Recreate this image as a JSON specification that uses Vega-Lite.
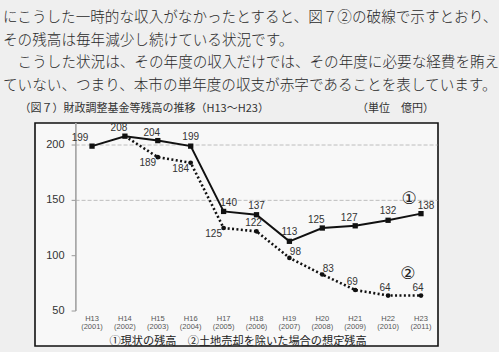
{
  "$schema": "https://vega.github.io/schema/vega-lite/v6.json",
  "autosize": "none",
  "width": 403,
  "height": 223,
  "padding": {"left": 35, "top": 123, "right": 61, "bottom": 6},
  "background": "#efefef",
  "view": {"stroke": "#111111", "strokeWidth": 1.6, "fill": "#f8f8f8"},
  "title": {
    "text": [
      "にこうした一時的な収入がなかったとすると、図７②の破線で示すとおり、",
      "その残高は毎年減少し続けている状況です。",
      "\u200B\u3000こうした状況は、その年度の収入だけでは、その年度に必要な経費を賄え",
      "ていない、つまり、本市の単年度の収支が赤字であることを表しています。"
    ],
    "subtitle": "\u200B\u3000\u3000（図７）財政調整基金等残高の推移（H13～H23）\u3000\u3000\u3000\u3000\u3000\u3000\u3000\u3000\u3000（単位　億円）",
    "anchor": "start",
    "frame": "group",
    "orient": "top",
    "dx": -32,
    "offset": 9,
    "font": "Noto Sans CJK JP",
    "fontSize": 14.6,
    "fontWeight": 300,
    "color": "#2a2a2a",
    "lineHeight": 22.5,
    "subtitleFont": "Noto Sans CJK JP",
    "subtitleFontSize": 11,
    "subtitleFontWeight": "normal",
    "subtitleColor": "#333333",
    "subtitlePadding": 10
  },
  "datasets": {
    "main": [
      {"year": 2001, "era": "H13", "paren": "(2001)", "series": "現状", "value": 199},
      {"year": 2002, "era": "H14", "paren": "(2002)", "series": "現状", "value": 208},
      {"year": 2003, "era": "H15", "paren": "(2003)", "series": "現状", "value": 204},
      {"year": 2004, "era": "H16", "paren": "(2004)", "series": "現状", "value": 199},
      {"year": 2005, "era": "H17", "paren": "(2005)", "series": "現状", "value": 140},
      {"year": 2006, "era": "H18", "paren": "(2006)", "series": "現状", "value": 137},
      {"year": 2007, "era": "H19", "paren": "(2007)", "series": "現状", "value": 113},
      {"year": 2008, "era": "H20", "paren": "(2008)", "series": "現状", "value": 125},
      {"year": 2009, "era": "H21", "paren": "(2009)", "series": "現状", "value": 127},
      {"year": 2010, "era": "H22", "paren": "(2010)", "series": "現状", "value": 132},
      {"year": 2011, "era": "H23", "paren": "(2011)", "series": "現状", "value": 138},
      {"year": 2002, "era": "H14", "paren": "(2002)", "series": "想定", "value": 208},
      {"year": 2003, "era": "H15", "paren": "(2003)", "series": "想定", "value": 189},
      {"year": 2004, "era": "H16", "paren": "(2004)", "series": "想定", "value": 184},
      {"year": 2005, "era": "H17", "paren": "(2005)", "series": "想定", "value": 125},
      {"year": 2006, "era": "H18", "paren": "(2006)", "series": "想定", "value": 122},
      {"year": 2007, "era": "H19", "paren": "(2007)", "series": "想定", "value": 98},
      {"year": 2008, "era": "H20", "paren": "(2008)", "series": "想定", "value": 83},
      {"year": 2009, "era": "H21", "paren": "(2009)", "series": "想定", "value": 69},
      {"year": 2010, "era": "H22", "paren": "(2010)", "series": "想定", "value": 64},
      {"year": 2011, "era": "H23", "paren": "(2011)", "series": "想定", "value": 64}
    ],
    "yticks": [{"v": 50}, {"v": 100}, {"v": 150}, {"v": 200}]
  },
  "data": {"name": "main"},
  "layer": [
    {
      "data": {"values": [{"g": 150}, {"g": 200}]},
      "mark": {"type": "rule", "color": "#bdbdbd", "strokeWidth": 1, "strokeDash": [4, 2]},
      "encoding": {
        "y": {"field": "g", "type": "quantitative", "scale": {"domain": [18.4, 219.9], "nice": false, "zero": false}, "axis": null},
        "x": {"datum": 2000.5, "type": "quantitative", "scale": {"domain": [1999.267, 2011.517], "nice": false, "zero": false}, "axis": null},
        "x2": {"datum": 2011.5}
      }
    },
    {
      "mark": {"type": "rule", "color": "#a8a8a8", "strokeWidth": 1},
      "encoding": {
        "x": {"datum": 2000.5, "type": "quantitative", "axis": null},
        "y": {"datum": 50, "type": "quantitative", "axis": null},
        "y2": {"datum": 219.9}
      }
    },
    {
      "data": {"name": "yticks"},
      "mark": {"type": "rule", "color": "#999999", "strokeWidth": 1},
      "encoding": {
        "x": {"datum": 2000.38, "type": "quantitative", "axis": null},
        "x2": {"datum": 2000.5},
        "y": {"field": "v", "type": "quantitative", "axis": null}
      }
    },
    {
      "data": {"name": "yticks"},
      "mark": {"type": "text", "font": "Liberation Sans", "fontSize": 11, "color": "#333333", "align": "right", "baseline": "middle", "dx": -11},
      "encoding": {
        "x": {"datum": 2000.5, "type": "quantitative", "axis": null},
        "y": {"field": "v", "type": "quantitative", "axis": null},
        "text": {"field": "v", "type": "quantitative"}
      }
    },
    {
      "transform": [{"filter": "datum.series === '現状'"}],
      "mark": {"type": "line", "color": "#111111", "strokeWidth": 2},
      "encoding": {
        "x": {"field": "year", "type": "quantitative", "axis": null},
        "y": {"field": "value", "type": "quantitative", "axis": null}
      }
    },
    {
      "transform": [{"filter": "datum.series === '想定'"}],
      "mark": {"type": "line", "color": "#111111", "strokeWidth": 2.6, "strokeDash": [2, 2.4]},
      "encoding": {
        "x": {"field": "year", "type": "quantitative", "axis": null},
        "y": {"field": "value", "type": "quantitative", "axis": null}
      }
    },
    {
      "transform": [{"filter": "datum.series === '現状'"}],
      "mark": {"type": "point", "shape": "square", "filled": true, "color": "#111111", "size": 28, "opacity": 1},
      "encoding": {
        "x": {"field": "year", "type": "quantitative", "axis": null},
        "y": {"field": "value", "type": "quantitative", "axis": null}
      }
    },
    {
      "transform": [{"filter": "datum.series === '想定' && datum.year >= 2003"}],
      "mark": {"type": "point", "shape": "circle", "filled": true, "color": "#111111", "size": 22, "opacity": 1},
      "encoding": {
        "x": {"field": "year", "type": "quantitative", "axis": null},
        "y": {"field": "value", "type": "quantitative", "axis": null}
      }
    },
    {
      "transform": [{"filter": "datum.series === '現状' && datum.year === 2001"}],
      "mark": {"type": "text", "font": "Liberation Sans", "fontSize": 10, "color": "#333333", "baseline": "middle", "dx": -12, "dy": -8},
      "encoding": {
        "x": {"field": "year", "type": "quantitative", "axis": null},
        "y": {"field": "value", "type": "quantitative", "axis": null},
        "text": {"field": "value", "type": "quantitative"}
      }
    },
    {
      "transform": [{"filter": "datum.series === '現状' && indexof([2002, 2003, 2008, 2009], datum.year) >= 0"}],
      "mark": {"type": "text", "font": "Liberation Sans", "fontSize": 10, "color": "#333333", "baseline": "middle", "dx": -6, "dy": -8},
      "encoding": {
        "x": {"field": "year", "type": "quantitative", "axis": null},
        "y": {"field": "value", "type": "quantitative", "axis": null},
        "text": {"field": "value", "type": "quantitative"}
      }
    },
    {
      "transform": [{"filter": "datum.series === '現状' && indexof([2004, 2006, 2007, 2010], datum.year) >= 0"}],
      "mark": {"type": "text", "font": "Liberation Sans", "fontSize": 10, "color": "#333333", "baseline": "middle", "dx": 0, "dy": -9},
      "encoding": {
        "x": {"field": "year", "type": "quantitative", "axis": null},
        "y": {"field": "value", "type": "quantitative", "axis": null},
        "text": {"field": "value", "type": "quantitative"}
      }
    },
    {
      "transform": [{"filter": "datum.series === '現状' && indexof([2005, 2011], datum.year) >= 0"}],
      "mark": {"type": "text", "font": "Liberation Sans", "fontSize": 10, "color": "#333333", "baseline": "middle", "dx": 5, "dy": -8},
      "encoding": {
        "x": {"field": "year", "type": "quantitative", "axis": null},
        "y": {"field": "value", "type": "quantitative", "axis": null},
        "text": {"field": "value", "type": "quantitative"}
      }
    },
    {
      "transform": [{"filter": "datum.series === '想定' && indexof([2003, 2004, 2005], datum.year) >= 0"}],
      "mark": {"type": "text", "font": "Liberation Sans", "fontSize": 10, "color": "#333333", "baseline": "middle", "dx": -10, "dy": 6},
      "encoding": {
        "x": {"field": "year", "type": "quantitative", "axis": null},
        "y": {"field": "value", "type": "quantitative", "axis": null},
        "text": {"field": "value", "type": "quantitative"}
      }
    },
    {
      "transform": [{"filter": "datum.series === '想定' && indexof([2006, 2009, 2010, 2011], datum.year) >= 0"}],
      "mark": {"type": "text", "font": "Liberation Sans", "fontSize": 10, "color": "#333333", "baseline": "middle", "dx": -3, "dy": -8},
      "encoding": {
        "x": {"field": "year", "type": "quantitative", "axis": null},
        "y": {"field": "value", "type": "quantitative", "axis": null},
        "text": {"field": "value", "type": "quantitative"}
      }
    },
    {
      "transform": [{"filter": "datum.series === '想定' && indexof([2007, 2008], datum.year) >= 0"}],
      "mark": {"type": "text", "font": "Liberation Sans", "fontSize": 10, "color": "#333333", "baseline": "middle", "dx": 6, "dy": -6},
      "encoding": {
        "x": {"field": "year", "type": "quantitative", "axis": null},
        "y": {"field": "value", "type": "quantitative", "axis": null},
        "text": {"field": "value", "type": "quantitative"}
      }
    },
    {
      "transform": [{"filter": "datum.series === '現状'"}],
      "mark": {"type": "text", "font": "Liberation Sans", "fontSize": 7.5, "color": "#555555", "baseline": "middle"},
      "encoding": {
        "x": {"field": "year", "type": "quantitative", "axis": null},
        "y": {"datum": 43.2, "type": "quantitative", "axis": null},
        "text": {"field": "era", "type": "nominal"}
      }
    },
    {
      "transform": [{"filter": "datum.series === '現状'"}],
      "mark": {"type": "text", "font": "Liberation Sans", "fontSize": 7.5, "color": "#555555", "baseline": "middle"},
      "encoding": {
        "x": {"field": "year", "type": "quantitative", "axis": null},
        "y": {"datum": 35.2, "type": "quantitative", "axis": null},
        "text": {"field": "paren", "type": "nominal"}
      }
    },
    {
      "data": {"values": [{"t": "①現状の残高　②土地売却を除いた場合の想定残高"}]},
      "mark": {"type": "text", "font": "Noto Sans CJK JP", "fontSize": 11.2, "color": "#222222", "baseline": "middle"},
      "encoding": {
        "x": {"datum": 2005.44, "type": "quantitative", "axis": null},
        "y": {"datum": 22.3, "type": "quantitative", "axis": null},
        "text": {"field": "t", "type": "nominal"}
      }
    },
    {
      "data": {"values": [{"t": "①"}]},
      "mark": {"type": "text", "font": "DejaVu Sans", "fontSize": 17, "color": "#222222", "baseline": "middle"},
      "encoding": {
        "x": {"datum": 2010.64, "type": "quantitative", "axis": null},
        "y": {"datum": 151.2, "type": "quantitative", "axis": null},
        "text": {"field": "t", "type": "nominal"}
      }
    },
    {
      "data": {"values": [{"t": "②"}]},
      "mark": {"type": "text", "font": "DejaVu Sans", "fontSize": 17, "color": "#222222", "baseline": "middle"},
      "encoding": {
        "x": {"datum": 2010.6, "type": "quantitative", "axis": null},
        "y": {"datum": 83.2, "type": "quantitative", "axis": null},
        "text": {"field": "t", "type": "nominal"}
      }
    }
  ]
}
